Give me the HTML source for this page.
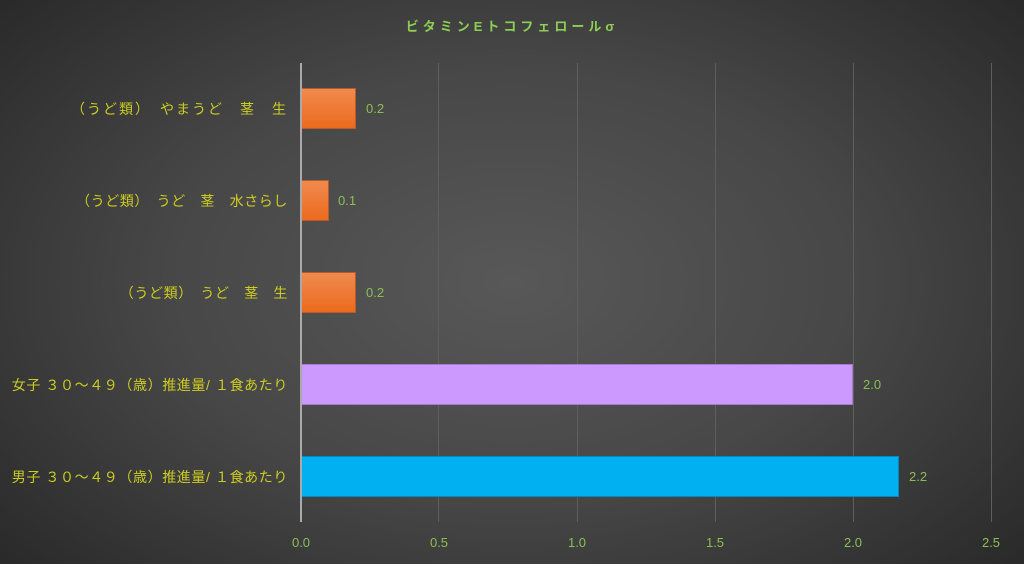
<!DOCTYPE html>
<html><head><meta charset="utf-8"><style>
body{margin:0}
#c{position:relative;width:1024px;height:564px;overflow:hidden;background:radial-gradient(ellipse 75% 85% at 50% 50%,#585858 0%,#474747 45%,#2c2c2c 85%,#222 100%);font-family:"Liberation Sans","Noto Sans CJK JP",sans-serif}
.g{position:absolute;top:63px;height:459px;width:1px;background:#5e5e5e}
.bar{position:absolute;left:301px;height:41px;box-sizing:border-box}
.or{background:linear-gradient(#f08a4e,#ec6a1e);border:1px solid #b85a2a}
.lb{position:absolute;right:736px;color:#cccc22;font-size:14px;letter-spacing:0.6px;white-space:nowrap;line-height:16px}
.v{position:absolute;color:#8cbf52;font-size:13px;line-height:16px}
.t{position:absolute;color:#8cbf52;font-size:13px;line-height:16px;transform:translateX(-50%);top:535px}
</style></head><body><div id="c">
<div style="position:absolute;left:0;width:1024px;top:16px;text-align:center;color:#8ccf52;font-weight:bold;font-size:13px;letter-spacing:4px">ビタミンEトコフェロールσ</div>
<div class="g" style="left:438px"></div><div class="g" style="left:577px"></div><div class="g" style="left:715px"></div><div class="g" style="left:853px"></div><div class="g" style="left:991px"></div>
<div class="bar or" style="top:88px;width:55px"></div>
<div class="bar or" style="top:180px;width:28px"></div>
<div class="bar or" style="top:272px;width:55px"></div>
<div class="bar" style="top:364px;width:552px;background:#cc99ff;border:1px solid #a57ad0"></div>
<div class="bar" style="top:456px;width:598px;background:#00b0f0;border:1px solid #0088c0"></div>
<div style="position:absolute;left:300px;top:63px;width:2px;height:459px;background:#aaa"></div>
<div class="lb" style="top:101px;letter-spacing:2px">（うど類）　やまうど　茎　生</div>
<div class="lb" style="top:193px">（うど類）　うど　茎　水さらし</div>
<div class="lb" style="top:285px">（うど類）　うど　茎　生</div>
<div class="lb" style="top:377px">女子 ３０～４９（歳）推進量/ １食あたり</div>
<div class="lb" style="top:469px">男子 ３０～４９（歳）推進量/ １食あたり</div>
<div class="v" style="left:366px;top:101px">0.2</div>
<div class="v" style="left:338px;top:193px">0.1</div>
<div class="v" style="left:366px;top:285px">0.2</div>
<div class="v" style="left:863px;top:377px">2.0</div>
<div class="v" style="left:909px;top:469px">2.2</div>
<div class="t" style="left:301px">0.0</div><div class="t" style="left:439px">0.5</div><div class="t" style="left:577px">1.0</div><div class="t" style="left:715px">1.5</div><div class="t" style="left:853px">2.0</div><div class="t" style="left:991px">2.5</div>
</div></body></html>
